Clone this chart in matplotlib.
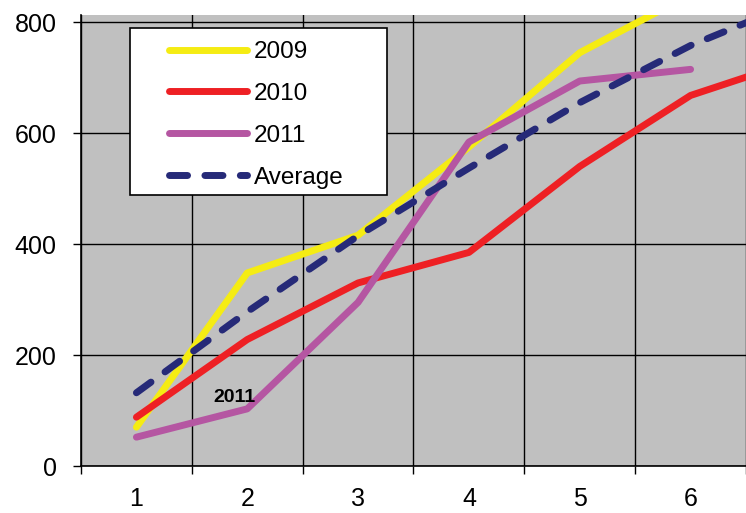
import matplotlib
matplotlib.use("Agg")
import matplotlib.pyplot as plt
from matplotlib.patches import Rectangle

# data
months = [1, 2, 3, 4, 5, 6, 7]
y2009 = [70, 348, 416, 575, 745, 850]
y2010 = [88, 228, 330, 385, 540, 668, 734]
y2011 = [52, 103, 295, 584, 694, 715]
avg = [132, 278, 415, 537, 655, 758, 840]
yticks = [0, 200, 400, 600, 800]
xlabels = ["1", "2", "3", "4", "5", "6"]

plt.rcParams['font.family'] = ['Liberation Sans', 'DejaVu Sans']

W, H = 746, 513
fig = plt.figure(figsize=(W / 100, H / 100), dpi=100)
ax = fig.add_axes([81 / W, (H - 466) / H, (W - 81) / W, (466 - 15) / H])
ax.set_facecolor('#c0c0c0')

ax.plot(months[:len(y2009)], y2009, color='#f5ec13', lw=5, solid_capstyle='round',
        solid_joinstyle='round', label='2009', zorder=3)
ax.plot(months[:len(y2010)], y2010, color='#ee2024', lw=5, solid_capstyle='round',
        solid_joinstyle='round', label='2010', zorder=3)
ax.plot(months[:len(y2011)], y2011, color='#b556a2', lw=5, solid_capstyle='round',
        solid_joinstyle='round', label='2011', zorder=3)
ax.plot(months[:len(avg)], avg, color='#262a78', lw=5, linestyle=(0, (2.6, 2.5)),
        dash_capstyle='round', label='Average', zorder=4)

ax.text(1.88, 124, '2011', fontsize=14, fontweight='bold', ha='center', va='center', zorder=5)

ax.set_xlim(0.5, 0.5 + (W - 81) / 112)
ax.set_ylim(0, 813)

# category axis: gridlines/ticks between categories, labels at centres
ax.set_xticks([i + 0.5 for i in range(0, 7)])
ax.set_xticklabels([])
ax.set_xticks(range(1, len(xlabels) + 1), minor=True)
ax.set_xticklabels(xlabels, minor=True)
ax.tick_params(axis='x', which='major', direction='out', length=5.5, width=1, color='black')
ax.tick_params(axis='x', which='minor', length=0, pad=15, labelsize=18)
ax.set_yticks(yticks)
ax.tick_params(axis='y', direction='out', length=5.5, width=1, pad=12, labelsize=18)

ax.grid(True, which='major', color='black', lw=1)
ax.set_axisbelow(True)
for s in ['top', 'right']:
    ax.spines[s].set_visible(False)
for s in ['left', 'bottom']:
    ax.spines[s].set_linewidth(1.2)

# legend box
ax.add_patch(Rectangle((130 / W, 1 - 195 / H), (387 - 130) / W, (195 - 28) / H,
                       transform=fig.transFigure, facecolor='white', clip_on=False,
                       edgecolor='black', lw=1.2, zorder=5))
leg = ax.legend(loc='upper left', bbox_to_anchor=(169 / W, 1 - 41 / H),
                bbox_transform=fig.transFigure, frameon=False, fontsize=17.5,
                handlelength=3.2, handletextpad=0.3, labelspacing=0.82,
                borderpad=0, borderaxespad=0)
leg.set_zorder(6)

fig.savefig('out.png', dpi=100)
